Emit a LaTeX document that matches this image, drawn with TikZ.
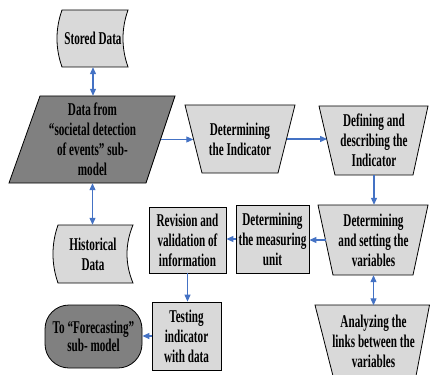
\documentclass[tikz,border=0pt]{standalone}
\usepackage{fontspec}
\setmainfont{Liberation Serif}[FakeStretch=0.62]
\usetikzlibrary{arrows.meta,shadows}
\definecolor{lightbox}{RGB}{217,217,217}
\definecolor{darkbox}{RGB}{128,128,128}
\definecolor{flow}{RGB}{68,114,196}
\begin{document}
\begin{tikzpicture}[x=1pt,y=-1pt,
  txt/.style={align=center,font=\fontsize{18}{20}\selectfont\bfseries,inner sep=0pt},
  outline/.style={draw=black,line width=0.8pt},
  light/.style={outline,fill=lightbox},
  dark/.style={outline,fill=darkbox},
  boxshadow/.style={drop shadow={shadow xshift=1.2pt,shadow yshift=-1.2pt,opacity=1,fill=black!60}},
  flowarrow/.style={draw=flow,line width=1.1pt,-{Triangle[length=7pt,width=6pt]}},
  twoway/.style={draw=flow,line width=1.1pt,{Triangle[length=7pt,width=6pt]}-{Triangle[length=7pt,width=6pt]}},
]
\useasboundingbox (0,0) rectangle (430,374);

% stored data (curved sides)
\draw[light] (62,10) -- (128,10) .. controls (121.3,29) and (121.3,48) .. (128,67)
  -- (62,67) .. controls (55.3,48) and (55.3,29) .. (62,10) -- cycle;
\node[txt,minimum height=57pt] (stored) at (93,38.5) {Stored Data};

% input parallelogram
\draw[dark] (40,96) -- (175,96) -- (146,183) -- (9,183) -- cycle;
\node[txt,minimum width=136pt,minimum height=87pt] (datain) at (92.5,139.5)
  {Data from\\“societal detection\\of events” sub-\\model};

% historical data (curved sides)
\draw[light] (58,225) -- (133,225) .. controls (125,244) and (125,264) .. (133,283)
  -- (58,283) .. controls (51.3,264) and (51.3,244) .. (58,225) -- cycle;
\node[txt,minimum height=58pt] (hist) at (93,254) {Historical\\Data};

% manual operations
\draw[light] (185,105) -- (295,105) -- (278,173) -- (202,173) -- cycle;
\node[txt,minimum width=93pt,minimum height=68pt] (ind) at (240,139) {Determining\\the Indicator};

\draw[light] (319,106) -- (428,106) -- (413,175) -- (335,175) -- cycle;
\node[txt,minimum width=93.5pt,minimum height=69pt] (def) at (374,140.5) {Defining and\\describing the\\Indicator};

\draw[light] (318,205) -- (428,205) -- (413,275) -- (333,275) -- cycle;
\node[txt,minimum width=95pt,minimum height=70pt] (var) at (373.5,240) {Determining\\and setting the\\variables};

\draw[light] (315,305) -- (429.5,305) -- (416,376) -- (333,376) -- cycle;
\node[txt,minimum width=98pt,minimum height=71pt] (links) at (373.5,341) {Analyzing the\\links between the\\variables};

% process boxes
\node[txt,light,boxshadow,minimum width=73pt,minimum height=68pt] (unit) at (272.5,239) {Determining\\the measuring\\unit};
\node[txt,light,boxshadow,minimum width=77pt,minimum height=66pt] (rev) at (187.5,240) {Revision and\\validation of\\information};
\node[txt,light,boxshadow,minimum width=69pt,minimum height=68pt] (test) at (186.5,336) {Testing\\indicator\\with data};

% terminator
\node[txt,dark,rounded corners=24pt,minimum width=97pt,minimum height=63pt,
  font=\fontsize{18}{18}\selectfont\bfseries] (term) at (93.5,336.5) {To “Forecasting”\\sub- model};

% flow
\draw[flowarrow] (datain.east) -- (datain.east -| ind.west);
\draw[flowarrow] (ind.east) -- (ind.east -| def.west);
\draw[flowarrow] (def.south) -- (def.south |- var.north);
\draw[flowarrow] (var.west) -- (var.west -| unit.east);
\draw[flowarrow] (unit.west) -- (unit.west -| rev.east);
\draw[flowarrow] (rev.south) -- (rev.south |- test.north);
\draw[flowarrow] (test.west) -- (test.west -| term.east);
\draw[twoway] (stored.south) -- (stored.south |- datain.north);
\draw[twoway] (datain.south) -- (datain.south |- hist.north);
\draw[twoway] (var.south) -- (var.south |- links.north);
\end{tikzpicture}
\end{document}
